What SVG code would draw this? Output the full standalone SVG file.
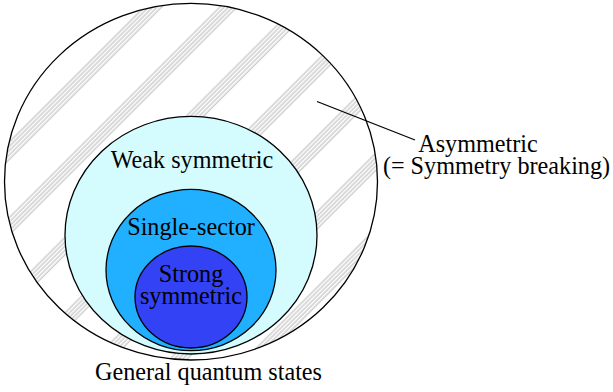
<svg xmlns="http://www.w3.org/2000/svg" width="613" height="392" viewBox="0 0 613 392">
  <style>
    .ring { stroke: #000; stroke-width: 1.3; }
    .lbl { font-family: "Liberation Serif", "Times New Roman", serif; font-size: 24.2px; fill: #000; text-anchor: middle; }
    .hl { stroke: #acacac; stroke-width: 0.9; }
  </style>
  <defs>
    <pattern id="hatch" patternUnits="userSpaceOnUse" x="-0.7" y="0" width="53.4" height="20" patternTransform="rotate(45)">
      <line class="hl" x1="1" y1="-1" x2="1" y2="21"/>
      <line class="hl" x1="4" y1="-1" x2="4" y2="21"/>
      <line class="hl" x1="7" y1="-1" x2="7" y2="21"/>
      <line class="hl" x1="10" y1="-1" x2="10" y2="21"/>
      <line class="hl" x1="13" y1="-1" x2="13" y2="21"/>
    </pattern>
  </defs>
  <rect width="613" height="392" fill="#fff"/>
  <g id="general">
    <ellipse cx="191" cy="181.7" rx="186.5" ry="178.3" fill="#fff"/>
    <ellipse class="ring" cx="191" cy="181.7" rx="186.5" ry="178.3" fill="url(#hatch)"/>
    <text class="lbl" x="208.5" y="380">General quantum states</text>
  </g>
  <g id="weak">
    <ellipse class="ring" cx="191" cy="235.2" rx="126" ry="118.8" fill="#d4fcff"/>
    <text class="lbl" x="192" y="168">Weak symmetric</text>
  </g>
  <g id="single">
    <ellipse class="ring" cx="191" cy="270" rx="85" ry="80.7" fill="#20b0ff"/>
    <text class="lbl" x="191" y="235">Single-sector</text>
  </g>
  <g id="strong">
    <ellipse class="ring" cx="191" cy="297" rx="56" ry="51" fill="#3342f5"/>
    <text class="lbl" x="191" y="282">Strong</text>
    <text class="lbl" x="191" y="304">symmetric</text>
  </g>
  <g id="asymmetric">
    <text class="lbl" x="478" y="152">Asymmetric</text>
    <text class="lbl" x="496.5" y="174">(= Symmetry breaking)</text>
  </g>
  <g id="connectors">
    <line x1="317" y1="101.5" x2="415" y2="140" stroke="#000" stroke-width="1.3"/>
  </g>
</svg>
